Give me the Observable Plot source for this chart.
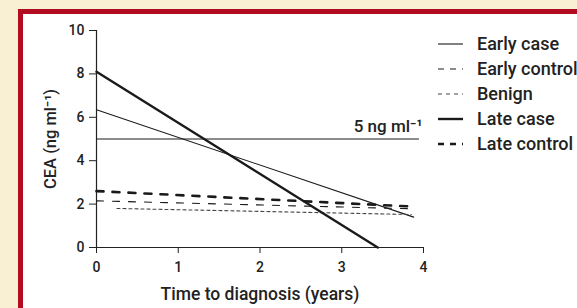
<!DOCTYPE html>
<html>
<head>
<meta charset="utf-8">
<script src="https://cdn.jsdelivr.net/npm/d3@7"></script>
<script src="https://cdn.jsdelivr.net/npm/@observablehq/plot@0.6"></script>
<style>
  html, body { margin: 0; padding: 0; }
  body { width: 577px; height: 308px; background: #f9efd2; position: relative; overflow: hidden; font-family: Roboto, "Noto Sans", sans-serif; }
  #panel { position: absolute; left: 18px; top: 9px; right: 0; bottom: 0; background: #fff; border-left: 5px solid #b10c20; border-top: 5px solid #b10c20; }
  #chart { position: absolute; left: 0; top: 0; }
  #legend { position: absolute; left: 438px; top: 31px; font-size: 18px; font-weight: 500; color: #222; white-space: nowrap; }
  #legend .row { height: 25px; display: flex; align-items: center; }
  #legend svg { margin-right: 14px; }
</style>
</head>
<body>
<div id="panel"></div>
<div id="chart"></div>
<div id="legend"></div>
<script>
// Data
const series = ["Early case", "Early control", "Benign", "Late case", "Late control"];
const startX = [0, 0, 0.25, 0, 0];
const startY = [6.35, 2.15, 1.8, 8.1, 2.6];
const endX = [3.88, 3.9, 3.85, 3.44, 3.9];
const endY = [1.4, 1.78, 1.52, 0, 1.88];
const xTicks = [0, 1, 2, 3, 4];
const yTicks = [0, 2, 4, 6, 8, 10];
const thresholdValue = 5;
const thresholdEnd = 3.94;
const thresholdLabel = "5 ng ml\u207B\u00B9";

// Styles
const styles = {
  "Early case":   {stroke: "#1a1a1a", width: 1.1, dash: null},
  "Early control":{stroke: "#1a1a1a", width: 1.1, dash: "7,9"},
  "Benign":       {stroke: "#444", width: 1.1, dash: "3,3"},
  "Late case":    {stroke: "#1a1a1a", width: 2.4, dash: null},
  "Late control": {stroke: "#1a1a1a", width: 2.6, dash: "7,9"}
};

const lineMarks = series.map((s, i) => {
  const pts = [{x: startX[i], y: startY[i]}, {x: endX[i], y: endY[i]}];
  const st = styles[s];
  return Plot.line(pts, {x: "x", y: "y", stroke: st.stroke, strokeWidth: st.width, strokeDasharray: st.dash});
});

const thresholdData = [{x: 0, y: thresholdValue}, {x: thresholdEnd, y: thresholdValue}];

const chart = Plot.plot({
  width: 577,
  height: 308,
  marginLeft: 96,
  marginRight: 154,
  marginTop: 30,
  marginBottom: 61,
  style: {background: "transparent", fontFamily: "Roboto, sans-serif", fontSize: "14px", color: "#222"},
  x: {domain: [0, 4]},
  y: {domain: [0, 10]},
  marks: [
    Plot.axisX({ticks: xTicks, tickFormat: d3.format("d"), tickSize: 6, tickPadding: 9, fontSize: 14, label: "Time to diagnosis (years)", labelAnchor: "center", labelArrow: "none", labelOffset: 52, stroke: "#222"}),
    Plot.axisY({ticks: yTicks, tickSize: 7, tickPadding: 5, fontSize: 14, label: "CEA (ng ml\u207B\u00B9)", labelAnchor: "center", labelArrow: "none", labelOffset: 52, stroke: "#222"}),
    Plot.ruleX([0], {stroke: "#222", strokeWidth: 1.2}),
    Plot.ruleY([0], {stroke: "#222", strokeWidth: 1.2}),
    Plot.line(thresholdData, {x: "x", y: "y", stroke: "#1a1a1a", strokeWidth: 1.1}),
    Plot.text([thresholdData[1]], {x: "x", y: "y", text: () => thresholdLabel, textAnchor: "end", dx: 4, dy: -12, fontSize: 17, fontWeight: 500, fill: "#222"}),
    ...lineMarks
  ]
});
const setFont = (sel, size) => chart.querySelectorAll(sel).forEach(g => {
  g.setAttribute("font-size", size);
  g.setAttribute("font-weight", "500");
  g.querySelectorAll("text").forEach(t => { t.setAttribute("font-size", size); t.setAttribute("font-weight", "500"); });
});
setFont("g[aria-label='x-axis label']", "17.5");
setFont("g[aria-label='y-axis label']", "16.5");
setFont("g[aria-label='x-axis tick label'], g[aria-label='y-axis tick label']", "14");
document.getElementById("chart").appendChild(chart);

// Legend
const legend = document.getElementById("legend");
series.forEach(s => {
  const st = styles[s];
  const row = document.createElement("div");
  row.className = "row";
  const ns = "http://www.w3.org/2000/svg";
  const svg = document.createElementNS(ns, "svg");
  svg.setAttribute("width", 25); svg.setAttribute("height", 6);
  const ln = document.createElementNS(ns, "line");
  ln.setAttribute("x1", 0); ln.setAttribute("x2", 25); ln.setAttribute("y1", 3); ln.setAttribute("y2", 3);
  ln.setAttribute("stroke", st.stroke); ln.setAttribute("stroke-width", st.width);
  if (st.dash) ln.setAttribute("stroke-dasharray", s === "Benign" ? "4,4" : "6,6");
  svg.appendChild(ln);
  row.appendChild(svg);
  const span = document.createElement("span");
  span.textContent = s;
  row.appendChild(span);
  legend.appendChild(row);
});
</script>
</body>
</html>
